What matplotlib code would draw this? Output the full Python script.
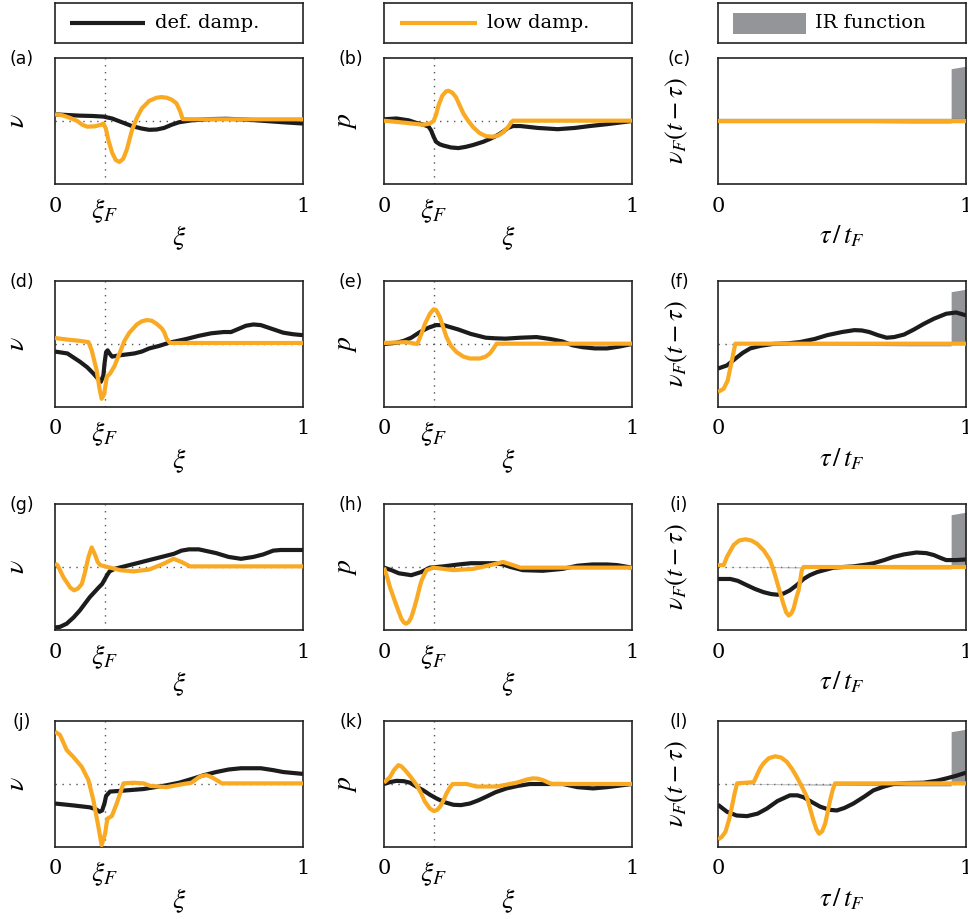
import matplotlib
matplotlib.use("Agg")
import matplotlib.pyplot as plt
from matplotlib.patches import Rectangle

plt.rcParams['font.family'] = ['DejaVu Serif']
plt.rcParams['mathtext.fontset'] = 'stix'

# ---------------- data (normalised, zero line at 0, limits +-1) ----------------
xi_F = 0.2

# (a)
a_def_x = [0, 0.05, 0.1, 0.15, 0.195, 0.23, 0.27, 0.31, 0.35, 0.38, 0.41, 0.44, 0.47, 0.5, 0.55, 0.62, 0.69, 0.76, 0.85, 0.92, 1.0]
a_def_y = [0.106, 0.095, 0.085, 0.08, 0.07, 0.04, -0.02, -0.08, -0.12, -0.14, -0.135, -0.11, -0.06, -0.02, 0.01, 0.03, 0.035, 0.025, 0.0, -0.02, -0.04]
a_low_x = [0, 0.03, 0.06, 0.09, 0.11, 0.13, 0.16, 0.185, 0.195, 0.205, 0.215, 0.23, 0.245, 0.26, 0.275, 0.29, 0.31, 0.33, 0.35, 0.38, 0.41, 0.43, 0.45, 0.47, 0.49, 0.505, 0.515, 0.6, 1.0]
a_low_y = [0.106, 0.09, 0.05, 0.0, -0.06, -0.09, -0.085, -0.06, -0.04, -0.12, -0.3, -0.5, -0.62, -0.65, -0.6, -0.45, -0.15, 0.05, 0.2, 0.32, 0.37, 0.38, 0.37, 0.34, 0.28, 0.15, 0.03, 0.027, 0.027]

# (b)
b_def_x = [0, 0.05, 0.1, 0.13, 0.16, 0.18, 0.19, 0.2, 0.21, 0.225, 0.24, 0.27, 0.3, 0.33, 0.36, 0.4, 0.43, 0.46, 0.48, 0.5, 0.52, 0.55, 0.62, 0.7, 0.77, 0.83, 0.9, 1.0]
b_def_y = [0.027, 0.04, 0.01, -0.03, -0.06, -0.09, -0.15, -0.25, -0.33, -0.37, -0.39, -0.42, -0.43, -0.41, -0.38, -0.33, -0.28, -0.22, -0.17, -0.11, -0.08, -0.08, -0.11, -0.13, -0.11, -0.08, -0.05, 0.0]
b_low_x = [0, 0.09, 0.16, 0.185, 0.2, 0.21, 0.22, 0.235, 0.25, 0.26, 0.275, 0.29, 0.305, 0.32, 0.34, 0.36, 0.385, 0.41, 0.44, 0.46, 0.48, 0.5, 0.51, 0.52, 1.0]
b_low_y = [0.005, -0.03, -0.06, -0.04, 0.0, 0.1, 0.25, 0.4, 0.47, 0.48, 0.45, 0.38, 0.25, 0.12, 0.0, -0.1, -0.19, -0.24, -0.25, -0.23, -0.18, -0.1, -0.04, 0.005, 0.005]

# (c)
c_def_x = [0, 1.0]
c_def_y = [0.0, 0.0]
c_low_x = [0, 1.0]
c_low_y = [0.0, 0.0]

# (d)
d_def_x = [0, 0.05, 0.1, 0.13, 0.155, 0.175, 0.185, 0.195, 0.2, 0.206, 0.212, 0.22, 0.23, 0.26, 0.3, 0.32, 0.35, 0.38, 0.42, 0.46, 0.53, 0.58, 0.63, 0.68, 0.71, 0.74, 0.77, 0.8, 0.83, 0.86, 0.92, 0.96, 1.0]
d_def_y = [-0.12, -0.15, -0.28, -0.37, -0.47, -0.56, -0.6, -0.5, -0.3, -0.13, -0.1, -0.15, -0.2, -0.18, -0.16, -0.15, -0.12, -0.07, -0.03, 0.02, 0.08, 0.13, 0.17, 0.19, 0.19, 0.24, 0.29, 0.31, 0.3, 0.26, 0.18, 0.155, 0.14]
d_low_x = [0, 0.05, 0.1, 0.135, 0.148, 0.168, 0.18, 0.188, 0.198, 0.209, 0.222, 0.24, 0.26, 0.28, 0.3, 0.33, 0.35, 0.37, 0.39, 0.41, 0.43, 0.44, 0.45, 0.464, 1.0]
d_low_y = [0.095, 0.07, 0.05, 0.03, -0.1, -0.42, -0.72, -0.87, -0.8, -0.52, -0.47, -0.35, -0.15, 0.05, 0.18, 0.31, 0.36, 0.38, 0.37, 0.32, 0.25, 0.19, 0.085, 0.016, 0.016]

# (e)
e_def_x = [0, 0.05, 0.08, 0.11, 0.145, 0.18, 0.21, 0.24, 0.265, 0.3, 0.35, 0.41, 0.45, 0.49, 0.55, 0.615, 0.67, 0.72, 0.76, 0.8, 0.85, 0.9, 0.95, 1.0]
e_def_y = [0.0, 0.02, 0.05, 0.1, 0.19, 0.26, 0.3, 0.3, 0.27, 0.23, 0.16, 0.1, 0.09, 0.085, 0.1, 0.11, 0.08, 0.04, -0.02, -0.05, -0.07, -0.07, -0.04, 0.0]
e_low_x = [0, 0.09, 0.134, 0.15, 0.165, 0.185, 0.2, 0.21, 0.225, 0.24, 0.252, 0.27, 0.293, 0.32, 0.346, 0.387, 0.41, 0.427, 0.44, 0.454, 1.0]
e_low_y = [0.016, 0.03, 0.0, 0.15, 0.32, 0.48, 0.55, 0.54, 0.43, 0.25, 0.11, -0.03, -0.13, -0.2, -0.23, -0.23, -0.2, -0.15, -0.08, 0.005, 0.005]

# (f)
f_def_x = [0, 0.036, 0.077, 0.1, 0.13, 0.17, 0.22, 0.28, 0.33, 0.39, 0.44, 0.5, 0.55, 0.58, 0.61, 0.645, 0.68, 0.71, 0.75, 0.79, 0.83, 0.87, 0.92, 0.96, 1.0]
f_def_y = [-0.39, -0.34, -0.21, -0.14, -0.07, -0.03, 0.0, 0.01, 0.03, 0.08, 0.14, 0.19, 0.22, 0.215, 0.19, 0.14, 0.1, 0.11, 0.15, 0.23, 0.32, 0.4, 0.48, 0.5, 0.455]
f_low_x = [0, 0.023, 0.039, 0.056, 0.07, 1.0]
f_low_y = [-0.76, -0.71, -0.58, -0.26, 0.005, 0.005]

# (g)
g_def_x = [0, 0.02, 0.047, 0.075, 0.1, 0.14, 0.175, 0.19, 0.2, 0.21, 0.22, 0.24, 0.26, 0.32, 0.4, 0.48, 0.51, 0.54, 0.58, 0.65, 0.7, 0.75, 0.8, 0.84, 0.88, 0.91, 1.0]
g_def_y = [-0.96, -0.95, -0.9, -0.8, -0.69, -0.48, -0.33, -0.27, -0.2, -0.13, -0.07, -0.03, -0.01, 0.05, 0.13, 0.21, 0.26, 0.28, 0.28, 0.22, 0.16, 0.13, 0.16, 0.2, 0.26, 0.27, 0.27]
g_low_x = [0, 0.01, 0.02, 0.035, 0.047, 0.062, 0.077, 0.093, 0.108, 0.12, 0.135, 0.148, 0.162, 0.172, 0.182, 0.222, 0.262, 0.316, 0.38, 0.437, 0.478, 0.51, 0.545, 1.0]
g_low_y = [0.05, 0.03, -0.05, -0.17, -0.24, -0.33, -0.37, -0.34, -0.27, -0.1, 0.16, 0.31, 0.19, 0.08, 0.03, -0.01, -0.05, -0.07, -0.04, 0.05, 0.13, 0.08, 0.01, 0.01]

# (h)
h_def_x = [0, 0.03, 0.06, 0.11, 0.15, 0.185, 0.24, 0.3, 0.35, 0.45, 0.48, 0.51, 0.56, 0.64, 0.72, 0.78, 0.84, 0.9, 0.94, 1.0]
h_def_y = [-0.01, -0.05, -0.1, -0.13, -0.08, -0.01, 0.01, 0.04, 0.06, 0.06, 0.04, 0.0, -0.05, -0.06, -0.03, 0.02, 0.04, 0.04, 0.03, -0.01]
h_low_x = [0, 0.012, 0.024, 0.05, 0.07, 0.08, 0.089, 0.1, 0.11, 0.122, 0.134, 0.145, 0.152, 0.165, 0.172, 0.2, 0.28, 0.36, 0.44, 0.48, 0.52, 0.55, 1.0]
h_low_y = [-0.01, -0.15, -0.32, -0.61, -0.82, -0.88, -0.9, -0.87, -0.8, -0.65, -0.48, -0.3, -0.21, -0.1, -0.05, -0.01, -0.05, -0.03, 0.04, 0.08, 0.03, -0.01, -0.01]

# (i)
i_def_x = [0, 0.05, 0.08, 0.117, 0.15, 0.184, 0.215, 0.24, 0.265, 0.29, 0.32, 0.345, 0.37, 0.4, 0.466, 0.546, 0.6, 0.627, 0.67, 0.707, 0.75, 0.8, 0.84, 0.87, 0.9, 0.92, 0.96, 1.0]
i_def_y = [-0.19, -0.19, -0.22, -0.29, -0.35, -0.4, -0.43, -0.44, -0.42, -0.37, -0.28, -0.19, -0.13, -0.08, -0.01, 0.01, 0.04, 0.06, 0.11, 0.16, 0.2, 0.23, 0.22, 0.19, 0.14, 0.11, 0.11, 0.12]
i_low_x = [0, 0.023, 0.036, 0.063, 0.085, 0.11, 0.135, 0.157, 0.185, 0.21, 0.228, 0.244, 0.264, 0.275, 0.285, 0.295, 0.305, 0.315, 0.325, 0.338, 0.345, 1.0]
i_low_y = [0.03, 0.03, 0.16, 0.35, 0.42, 0.44, 0.42, 0.37, 0.26, 0.11, -0.1, -0.32, -0.59, -0.72, -0.77, -0.74, -0.66, -0.5, -0.37, -0.05, 0.0, 0.0]

# (j)
j_def_x = [0, 0.074, 0.14, 0.165, 0.18, 0.19, 0.2, 0.206, 0.222, 0.26, 0.357, 0.45, 0.5, 0.56, 0.6, 0.65, 0.7, 0.75, 0.8, 0.83, 0.88, 0.92, 1.0]
j_def_y = [-0.31, -0.34, -0.37, -0.4, -0.44, -0.42, -0.3, -0.19, -0.12, -0.11, -0.08, -0.02, 0.02, 0.09, 0.14, 0.19, 0.23, 0.25, 0.25, 0.25, 0.22, 0.19, 0.16]
j_low_x = [0, 0.02, 0.047, 0.074, 0.108, 0.135, 0.155, 0.175, 0.188, 0.202, 0.211, 0.229, 0.249, 0.276, 0.316, 0.357, 0.384, 0.45, 0.518, 0.55, 0.585, 0.61, 0.625, 0.64, 0.673, 1.0]
j_low_y = [0.83, 0.78, 0.54, 0.43, 0.27, 0.06, -0.26, -0.68, -0.97, -0.79, -0.55, -0.51, -0.31, 0.01, 0.02, 0.01, -0.03, -0.05, 0.0, 0.02, 0.12, 0.14, 0.12, 0.09, 0.01, 0.01]

# (k)
k_def_x = [0, 0.025, 0.05, 0.08, 0.105, 0.13, 0.158, 0.185, 0.212, 0.245, 0.28, 0.31, 0.346, 0.38, 0.413, 0.45, 0.494, 0.54, 0.588, 0.722, 0.78, 0.843, 0.9, 1.0]
k_def_y = [0.0, 0.03, 0.05, 0.045, 0.02, -0.04, -0.1, -0.17, -0.23, -0.29, -0.33, -0.335, -0.31, -0.26, -0.2, -0.13, -0.07, -0.03, 0.0, 0.0, -0.05, -0.07, -0.05, 0.0]
k_low_x = [0, 0.024, 0.04, 0.058, 0.07, 0.085, 0.11, 0.132, 0.15, 0.165, 0.185, 0.201, 0.215, 0.226, 0.24, 0.252, 0.265, 0.277, 0.333, 0.373, 0.454, 0.534, 0.575, 0.6, 0.62, 0.642, 0.675, 1.0]
k_low_y = [0.02, 0.11, 0.22, 0.3, 0.28, 0.22, 0.1, -0.02, -0.15, -0.28, -0.39, -0.43, -0.41, -0.36, -0.26, -0.15, -0.06, 0.0, 0.0, -0.04, -0.04, 0.02, 0.07, 0.09, 0.085, 0.06, 0.0, 0.0]

# (l)
l_def_x = [0, 0.036, 0.075, 0.117, 0.16, 0.197, 0.24, 0.29, 0.32, 0.345, 0.38, 0.412, 0.45, 0.479, 0.51, 0.546, 0.59, 0.627, 0.67, 0.707, 0.76, 0.828, 0.88, 0.922, 0.96, 1.0]
l_def_y = [-0.33, -0.44, -0.5, -0.51, -0.47, -0.39, -0.27, -0.18, -0.18, -0.21, -0.29, -0.36, -0.41, -0.42, -0.38, -0.31, -0.2, -0.1, -0.04, 0.0, 0.015, 0.02, 0.05, 0.09, 0.13, 0.18]
l_low_x = [0, 0.015, 0.03, 0.045, 0.056, 0.067, 0.077, 0.144, 0.157, 0.17, 0.184, 0.205, 0.231, 0.255, 0.278, 0.3, 0.318, 0.338, 0.358, 0.372, 0.385, 0.397, 0.408, 0.42, 0.432, 0.442, 0.452, 0.462, 0.472, 1.0]
l_low_y = [-0.88, -0.84, -0.76, -0.56, -0.36, -0.15, 0.01, 0.03, 0.14, 0.25, 0.33, 0.41, 0.44, 0.42, 0.35, 0.23, 0.11, -0.04, -0.2, -0.4, -0.58, -0.72, -0.79, -0.75, -0.63, -0.45, -0.26, -0.1, 0.01, 0.01]

# impulse-response (IR) function, drawn in the right column
ir_x = [0.0, 0.78, 0.94, 0.9401, 1.0]
ir_y = [0.0, -0.03, -0.03, 0.83, 0.87]

panel_letters = ['a', 'b', 'c', 'd', 'e', 'f', 'g', 'h', 'i', 'j', 'k', 'l']
legend_labels = ['def. damp.', 'low damp.', 'IR function']

panels = [
    (a_def_x, a_def_y, a_low_x, a_low_y), (b_def_x, b_def_y, b_low_x, b_low_y), (c_def_x, c_def_y, c_low_x, c_low_y),
    (d_def_x, d_def_y, d_low_x, d_low_y), (e_def_x, e_def_y, e_low_x, e_low_y), (f_def_x, f_def_y, f_low_x, f_low_y),
    (g_def_x, g_def_y, g_low_x, g_low_y), (h_def_x, h_def_y, h_low_x, h_low_y), (i_def_x, i_def_y, i_low_x, i_low_y),
    (j_def_x, j_def_y, j_low_x, j_low_y), (k_def_x, k_def_y, k_low_x, k_low_y), (l_def_x, l_def_y, l_low_x, l_low_y),
]

# ---------------- styling ----------------
BLACK = '#1c1c1c'
ORANGE = '#F9AA22'
GRAY = '#939598'
LW = 3.0

W, H = 968, 919
fig = plt.figure(figsize=(W / 100, H / 100), dpi=100)

col_left = [55, 384, 718]
ax_w = 248
row_top = [58, 281, 504, 721]
ax_h = 126


def frac(left, top, w, h):
    return [left / W, (H - top - h) / H, w / W, h / H]


for idx, (dx, dy, lx, ly) in enumerate(panels):
    r, c = divmod(idx, 3)
    ax = fig.add_axes(frac(col_left[c], row_top[r], ax_w, ax_h))
    ax.set_xlim(0, 1)
    ax.set_ylim(-1, 1)
    ax.axhline(0, color='#555555', lw=1.0, ls=(0, (1, 4)), zorder=1)
    if c < 2:
        ax.axvline(xi_F, color='#555555', lw=1.0, ls=(0, (1, 4)), zorder=1)
        ax.set_xticks([0, xi_F, 1])
        ax.set_xticklabels(['0', r'$\xi_F$', '1'])
        ax.set_xlabel(r'$\xi$', fontsize=20)
        ax.set_ylabel(r'$\nu$' if c == 0 else r'$p$', fontsize=20)
        ax.yaxis.set_label_coords(-0.1, 0.5)
        letter_x = -0.133
    else:
        ax.fill_between(ir_x, 0, ir_y, color=GRAY, lw=0, zorder=1.5)
        ax.set_xticks([0, 1])
        ax.set_xticklabels(['0', '1'])
        ax.set_xlabel(r'$\tau\,/\,t_F$', fontsize=19)
        ax.set_ylabel(r'$\nu_F(t-\tau)$', fontsize=19)
        ax.yaxis.set_label_coords(-0.112, 0.5)
        letter_x = -0.157
    ax.xaxis.set_label_coords(0.5, -0.31)
    ax.plot(dx, dy, color=BLACK, lw=LW, solid_capstyle='butt', solid_joinstyle='round', zorder=3)
    ax.plot(lx, ly, color=ORANGE, lw=LW, solid_capstyle='butt', solid_joinstyle='round', zorder=4)
    ax.set_yticks([])
    ax.tick_params(axis='x', length=0, pad=9, labelsize=15)
    if c < 2:
        ax.get_xticklabels()[1].set_fontsize(20)
    for sp in ax.spines.values():
        sp.set_linewidth(1.2)
        sp.set_color('#222222')
    ax.text(letter_x, 0.99, '(%s)' % panel_letters[idx], transform=ax.transAxes,
            ha='center', va='center', fontsize=12.5, family='DejaVu Sans')

# ---------------- legend boxes ----------------
for c in range(3):
    lax = fig.add_axes(frac(col_left[c], 3, ax_w, 40))
    lax.set_xlim(0, 1)
    lax.set_ylim(0, 1)
    lax.set_xticks([])
    lax.set_yticks([])
    for sp in lax.spines.values():
        sp.set_linewidth(1.2)
        sp.set_color('#222222')
    if c == 0:
        lax.plot([0.06, 0.363], [0.5, 0.5], color=BLACK, lw=LW, solid_capstyle='butt')
        tx = 0.403
    elif c == 1:
        lax.plot([0.065, 0.375], [0.5, 0.5], color=ORANGE, lw=LW, solid_capstyle='butt')
        tx = 0.415
    else:
        lax.add_patch(Rectangle((0.06, 0.225), 0.295, 0.525, color=GRAY, lw=0))
        tx = 0.39
    lax.text(tx, 0.5, legend_labels[c], ha='left', va='center', fontsize=14)

fig.savefig('out.png', dpi=100)
